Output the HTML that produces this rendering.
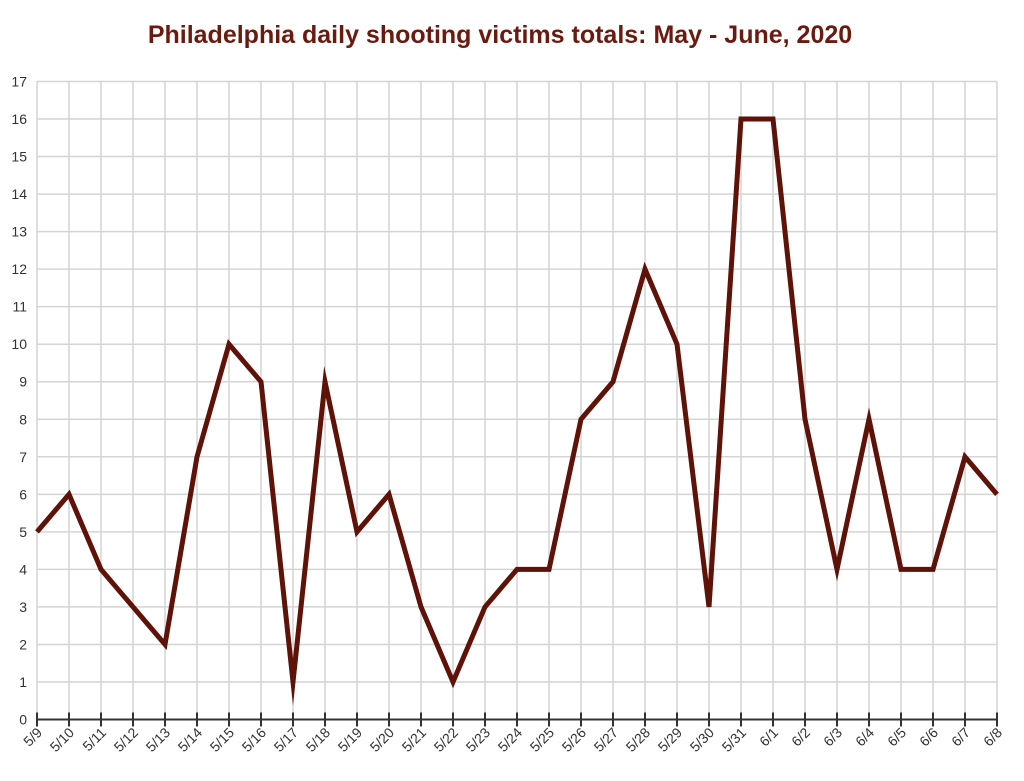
<!DOCTYPE html>
<html><head><meta charset="utf-8"><style>
html,body{margin:0;padding:0;background:#fff;}
svg{display:block;font-family:"Liberation Sans",Arial,sans-serif;}
</style></head><body>
<svg id="c" width="1024" height="781" xmlns="http://www.w3.org/2000/svg">
<text x="500" y="43" text-anchor="middle" font-size="25" font-weight="bold" fill="#6b1a0f">Philadelphia daily shooting victims totals: May - June, 2020</text>
<g id="g"></g>
</svg>
<script>
var ns="http://www.w3.org/2000/svg",g=document.getElementById('g');
function el(t,a,txt){var e=document.createElementNS(ns,t);for(var k in a)e.setAttribute(k,a[k]);if(txt!=null)e.textContent=txt;g.appendChild(e);return e;}
var x0=37,dx=32,y0=719.5,dy=37.53;
var labels=["5/9","5/10","5/11","5/12","5/13","5/14","5/15","5/16","5/17","5/18","5/19","5/20","5/21","5/22","5/23","5/24","5/25","5/26","5/27","5/28","5/29","5/30","5/31","6/1","6/2","6/3","6/4","6/5","6/6","6/7","6/8"];
var vals=[5,6,4,3,2,7,10,9,1,9,5,6,3,1,3,4,4,8,9,12,10,3,16,16,8,4,8,4,4,7,6];
for(var v=1;v<=17;v++){var y=y0-v*dy;el('line',{x1:x0,x2:997,y1:y,y2:y,stroke:'#d4d4d4','stroke-width':1.5});}
for(var i=0;i<=30;i++){var x=x0+i*dx;el('line',{x1:x,x2:x,y1:y0-17*dy,y2:y0,stroke:'#d4d4d4','stroke-width':1.5});}
for(var v=0;v<=17;v++){var y=y0-v*dy;el('text',{x:27,y:y+5,'text-anchor':'end','font-size':14,fill:'#333'},String(v));}
el('line',{x1:x0,x2:998,y1:y0,y2:y0,stroke:'#333','stroke-width':2});
for(var i=0;i<=30;i++){var x=x0+i*dx;el('line',{x1:x,x2:x,y1:y0-7,y2:y0+7,stroke:'#333','stroke-width':2});
el('text',{x:0,y:0,'text-anchor':'end','font-size':14,fill:'#333',transform:'translate('+(x+6)+','+(y0+14)+') rotate(-45)'},labels[i]);}
var pts=vals.map(function(v,i){return (x0+i*dx)+','+(y0-v*dy);}).join(' ');
el('polyline',{points:pts,fill:'none',stroke:'#5e1208','stroke-width':5,'stroke-linejoin':'miter','stroke-miterlimit':10});
</script>
</body></html>
